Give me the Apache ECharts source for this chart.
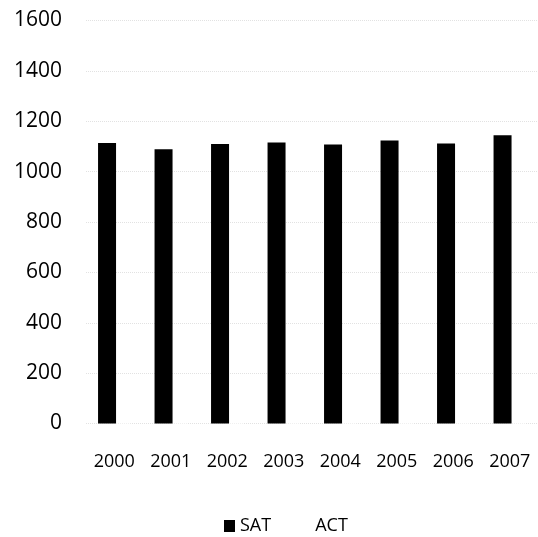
<!DOCTYPE html>
<html>
<head>
<meta charset="utf-8">
<script src="https://cdn.jsdelivr.net/npm/echarts@6/dist/echarts.min.js"></script>
<style>html,body{margin:0;padding:0;background:#fff}#c{width:538px;height:537px}</style>
</head>
<body>
<div id="c"></div>
<script>
var categories = ['2000','2001','2002','2003','2004','2005','2006','2007'];
var satValues = [1114, 1089, 1110, 1116, 1108, 1124, 1112, 1144];
var actValues = [21.0, 21.0, 20.8, 20.8, 20.9, 20.9, 21.1, 21.2];
var yTicks = [0, 200, 400, 600, 800, 1000, 1200, 1400, 1600];

var chart = echarts.init(document.getElementById('c'), null, {renderer: 'canvas'});
chart.setOption({
  animation: false,
  backgroundColor: '#fff',
  textStyle: {fontFamily: 'Open Sans'},
  grid: {left: 86, right: -5, top: 20.5, bottom: 113.5, containLabel: false},
  legend: {
    left: 219, top: 512,
    icon: 'rect', itemWidth: 11, itemHeight: 12, itemGap: 28,
    textStyle: {fontFamily: 'Open Sans', fontSize: 18, color: '#000'},
    data: ['SAT', 'ACT']
  },
  xAxis: {
    type: 'category',
    data: categories,
    axisLine: {show: false},
    axisTick: {show: false},
    axisLabel: {fontFamily: 'Open Sans', fontSize: 18, color: '#000', margin: 29}
  },
  yAxis: {
    type: 'value',
    min: yTicks[0], max: yTicks[yTicks.length - 1], interval: 200,
    axisLine: {show: false},
    axisTick: {show: false},
    axisLabel: {fontFamily: 'Open Sans', fontSize: 21, color: '#000', margin: 24,
      formatter: function (v) { return String(v); }},
    splitLine: {show: true, lineStyle: {color: '#e2e2e2', type: 'dotted', width: 1}}
  },
  series: [
    {name: 'SAT', type: 'bar', data: satValues, barWidth: 18, barGap: '-20%', z: 3,
     itemStyle: {color: '#000'}},
    {name: 'ACT', type: 'bar', data: actValues, barWidth: 18, z: 2,
     itemStyle: {color: '#fff'}}
  ]
});
</script>
</body>
</html>
